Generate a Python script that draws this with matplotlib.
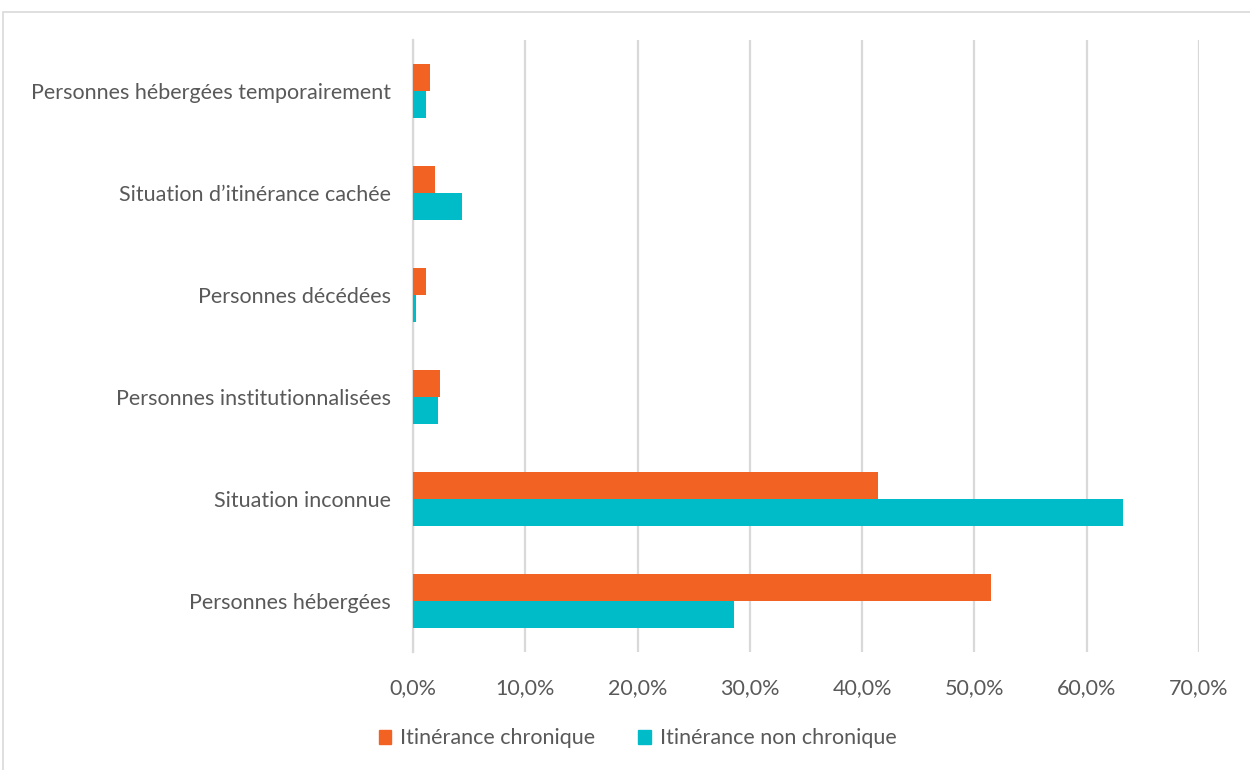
import matplotlib as mpl
import matplotlib.pyplot as plt
import numpy as np
from matplotlib.patches import Rectangle, Patch
from matplotlib.ticker import FuncFormatter

mpl.rcParams.update({
    "font.family": ["Lato", "DejaVu Sans"],
    "font.size": 15.5,
})

# bottom to top
categories = [
    "Personnes hébergées",
    "Situation inconnue",
    "Personnes institutionnalisées",
    "Personnes décédées",
    "Situation d’itinérance cachée",
    "Personnes hébergées temporairement",
]
chronique = [51.5, 41.4, 2.4, 1.2, 2.0, 1.5]
non_chronique = [28.6, 63.2, 2.2, 0.3, 4.4, 1.2]
series_labels = ["Itinérance chronique", "Itinérance non chronique"]

ORANGE = "#F26323"
TEAL = "#00BCC8"
GRID = "#D9D9D9"
TEXT = "#595959"

fig = plt.figure(figsize=(12.5, 7.7), dpi=100)
fig.patches.append(Rectangle((0.0025, -0.1), 1.1, 1.0844, transform=fig.transFigure,
                             fill=False, edgecolor=GRID, lw=1.2))
ax = fig.add_axes([0.3304, 0.1532, 0.6288, 0.7948])

y = np.arange(len(categories))
h = 0.262
ax.barh(y + h / 2, chronique, height=h, color=ORANGE, label=series_labels[0], zorder=3)
ax.barh(y - h / 2, non_chronique, height=h, color=TEAL, label=series_labels[1], zorder=3)

ax.set_xlim(0, 70)
ax.set_ylim(-0.5, len(categories) - 0.5)
ax.set_xticks(np.arange(0, 71, 10))
ax.xaxis.set_major_formatter(FuncFormatter(lambda v, p: f"{v:.1f}%".replace(".", ",")))
ax.set_yticks(y)
ax.set_yticklabels(categories)
ax.grid(axis="x", color=GRID, lw=1.6, zorder=0)
for s in ["top", "right", "bottom"]:
    ax.spines[s].set_visible(False)
ax.spines["left"].set_color(GRID)
ax.spines["left"].set_linewidth(1.6)
ax.tick_params(axis="both", length=0, colors=TEXT, labelsize=15.5)
ax.tick_params(axis="x", pad=19)
ax.tick_params(axis="y", pad=16)

handles = [Patch(color=ORANGE), Patch(color=TEAL)]
fig.legend(handles, series_labels, loc="center", bbox_to_anchor=(0.51, 0.041), ncol=2,
           frameon=False, handlelength=0.6, handleheight=0.6, handletextpad=0.4,
           columnspacing=2.0, fontsize=15.5, labelcolor=TEXT)

fig.savefig("out.png", dpi=100)
